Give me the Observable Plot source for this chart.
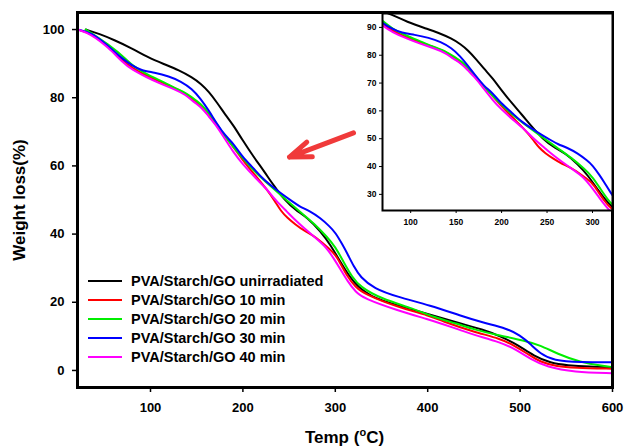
<!DOCTYPE html>
<html><head><meta charset="utf-8">
<script src="https://cdn.jsdelivr.net/npm/d3@7"></script>
<script src="https://cdn.jsdelivr.net/npm/@observablehq/plot@0.6"></script>
<style>
body{margin:0;background:#fff;}
#wrap{position:relative;width:624px;height:448px;overflow:hidden;font-family:"Liberation Sans",Arial,sans-serif;}
#wrap svg{position:absolute;left:0;top:0;}
#legend{position:absolute;left:88px;top:271px;font-weight:bold;font-size:14.5px;color:#000;}
.row{display:flex;align-items:center;height:19px;white-space:nowrap;}
.sw{width:34px;height:0;border-top:2px solid;margin-right:9px;}
</style></head><body><div id="wrap"><div id="legend"></div></div>
<script>
// ---- data (temperature °C, weight %) ----
const seriesNames = ["PVA/Starch/GO unirradiated","PVA/Starch/GO 10 min","PVA/Starch/GO 20 min","PVA/Starch/GO 30 min","PVA/Starch/GO 40 min"];
const seriesColors = ["#000000","#ff0000","#00ee00","#0000ff","#ff00ff"];

const unirrT = [30,46,60,80,96,115,130,145,155,163,172,181,190,199,212,222,234,245,257,270,284,295,306,320,338,367,403,432,460,479,497,515,533,551,575,600];
const unirrW = [100,98.6,97.0,94.5,92.0,89.8,88.2,86.0,84.0,81.8,78.6,75.0,71.8,67.8,62.5,58.8,54.0,50.0,47.0,44.8,40.8,36.8,31.6,25.5,21.6,19.1,16.4,14.0,12.0,10.0,7.6,4.2,2.2,1.5,1.1,1.0];

const min10T = [21,35,55,69,80,95,109,125,138,147,156,163,170,178,190,199,213,225,235,241,248,257,266,279,295,301,313,322,331,367,403,414,450,479,493,508,522,540,558,600];
const min10W = [100,99.0,95.0,91.0,88.8,86.5,84.8,83.0,81.3,79.3,77.0,74.8,72.5,69.5,65.5,62.0,57.3,53.5,49.5,46.8,44.8,42.8,41.0,39.2,35.3,33.8,27.4,24.5,22.5,18.6,16.0,14.6,11.3,9.3,7.4,4.9,2.4,1.2,0.8,0.5];

const min20T = [30,55,75,80,95,111,125,140,150,156,163,170,176,181,190,199,212,228,248,262,277,291,300,309,318,327,349,385,406,432,450,479,504,522,540,565,590,600];
const min20W = [100,95.6,91.0,89.5,87.0,85.0,83.0,81.2,79.0,77.8,75.5,73.0,70.6,68.5,65.5,62.5,58.5,54.5,49.8,46.5,43.1,39.2,36.3,31.8,27.5,24.5,21.1,18.1,15.7,13.7,12.0,10.2,8.8,7.4,4.9,2.4,1.3,1.0];

const min30T = [21,35,55,69,80,90,104,120,133,145,154,163,172,181,190,199,212,222,241,255,262,272,284,294,300,308,313,320,327,342,367,403,436,460,486,500,511,522,536,565,600];
const min30W = [100,99.3,95.1,91.5,89.5,88.0,87.4,86.3,84.8,82.6,79.8,76.3,72.3,68.8,66.5,62.8,59.2,56.0,52.0,49.3,48.0,46.8,44.7,42.2,40.5,36.8,34.3,30.5,27.4,24.0,21.6,19.1,16.0,14.0,12.3,10.3,7.8,4.9,2.9,2.4,2.4];

const min40T = [21,35,55,69,80,96,109,126,138,147,156,163,170,178,191,199,213,226,235,248,257,266,280,290,298,306,313,322,331,367,403,414,436,450,479,497,511,529,558,600];
const min40W = [100,98.8,94.6,90.6,88.2,86.0,84.3,82.5,80.9,78.7,77.0,74.5,72.3,69.0,63.5,60.8,56.6,53.2,50.0,46.5,44.0,41.8,38.6,36.2,33.0,29.5,26.3,23.0,21.1,17.6,14.8,13.8,11.8,10.4,8.3,5.9,3.4,1.0,-0.5,-0.8];

const mainXTicks = [100,200,300,400,500,600];
const mainYTicks = [0,20,40,60,80,100];
const insetXTicks = [100,150,200,250,300];
const insetYTicks = [30,40,50,60,70,80,90];
const arrowFrom = [319.7, 69.7];
const arrowTo = [250.4, 62.6];

// ---- build table ----
const seriesT = [unirrT, min10T, min20T, min30T, min40T];
const seriesW = [unirrW, min10W, min20W, min30W, min40W];
const rows = seriesNames.flatMap((s, i) => seriesT[i].map((t, j) => ({s, T: t, W: seriesW[i][j]})));
const arrowData = [{x1: arrowFrom[0], y1: arrowFrom[1], x2: arrowTo[0], y2: arrowTo[1]}];

const FONT = '"Liberation Sans", Arial, sans-serif';

const main = Plot.plot({
  width: 624, height: 448,
  marginLeft: 77, marginRight: 12, marginTop: 12, marginBottom: 61,
  style: {fontFamily: FONT, fontWeight: "bold", fontSize: "13px", color: "#000", background: "none"},
  x: {domain: [21, 600]},
  y: {domain: [-5, 105]},
  color: {domain: seriesNames, range: seriesColors},
  marks: [
    Plot.line(rows, {x: "T", y: "W", z: "s", stroke: "s", strokeWidth: 2, curve: "basis", clip: true}),
    Plot.arrow(arrowData, {x1: "x1", y1: "y1", x2: "x2", y2: "y2", stroke: "#f03a3a", strokeWidth: 5, headLength: 24, headAngle: 40}),
    Plot.axisX({ticks: mainXTicks, tickSize: 5, tickPadding: 10, strokeWidth: 1.5, label: null, fontSize: 13}),
    Plot.axisY({ticks: mainYTicks, tickSize: 5, tickPadding: 8, strokeWidth: 1.5, label: null, fontSize: 13}),
    Plot.text(["Weight loss(%)"], {frameAnchor: "left", rotate: -90, dx: -58, textAnchor: "middle", fontSize: 17, fontWeight: "bold"}),
    Plot.frame({strokeWidth: 3})
  ]
});

const inset = Plot.plot({
  width: 254, height: 218,
  marginLeft: 20, marginRight: 4, marginTop: 3, marginBottom: 18,
  style: {fontFamily: FONT, fontWeight: "bold", fontSize: "8.5px", color: "#000", background: "none"},
  x: {domain: [69, 322]},
  y: {domain: [24.2, 95]},
  color: {domain: seriesNames, range: seriesColors},
  marks: [
    Plot.frame({fill: "white", stroke: null}),
    Plot.line(rows, {x: "T", y: "W", z: "s", stroke: "s", strokeWidth: 2, curve: "basis", clip: true}),
    Plot.axisX({ticks: insetXTicks, tickSize: 3, tickPadding: 5, label: null, fontSize: 8.5}),
    Plot.axisY({ticks: insetYTicks, tickSize: 3, tickPadding: 3, label: null, fontSize: 8.5}),
    Plot.frame({strokeWidth: 2})
  ]
});

// x-axis title with superscript
const xr = main.scale("x").range;
const xt = d3.select(main).append("text")
  .attr("x", (xr[0] + xr[1]) / 2).attr("y", 443)
  .attr("text-anchor", "middle").attr("font-size", 17).attr("font-weight", "bold")
  .attr("font-family", FONT).attr("fill", "#000");
xt.append("tspan").text("Temp (");
xt.append("tspan").attr("dy", -7).attr("font-size", 11).text("o");
xt.append("tspan").attr("dy", 7).text("C)");

const wrap = document.getElementById("wrap");
wrap.insertBefore(main, wrap.firstChild);
inset.style.position = "absolute";
inset.style.left = "362px";
inset.style.top = "10px";
wrap.appendChild(inset);

// legend
const legend = d3.select("#legend");
seriesNames.forEach((n, i) => {
  const r = legend.append("div").attr("class", "row");
  r.append("span").attr("class", "sw").style("border-top-color", seriesColors[i]);
  r.append("span").text(n);
});
</script></body></html>
